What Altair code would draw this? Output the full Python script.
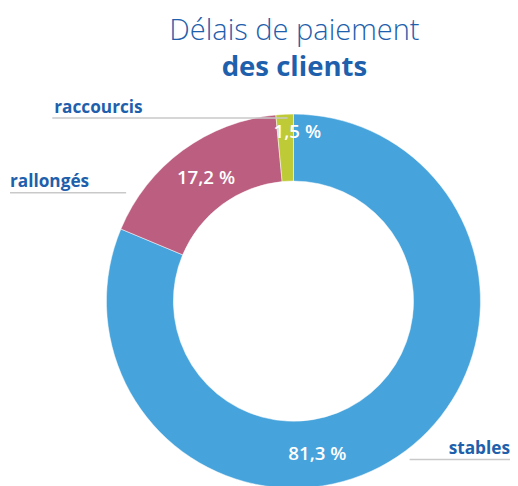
import altair as alt
import pandas as pd

categories = ["stables", "rallongés", "raccourcis"]
values = [81.3, 17.2, 1.5]
labels = ["81,3 %", "17,2 %", "1,5 %"]
order = [1, 2, 3]
colors = ["#46A3DB", "#BC5E80", "#BECA36"]

df = pd.DataFrame({"cat": categories, "val": values, "lab": labels, "ord": order})

CX, CY = 290, 294
FONT = "Open Sans"
BLUE_TXT = "#1E60AC"

arcs = alt.Chart(df).mark_arc(innerRadius=122, outerRadius=190, stroke="white", strokeWidth=0.5).encode(
    theta=alt.Theta("val:Q", stack=True),
    order=alt.Order("ord:Q"),
    x=alt.value(CX),
    y=alt.value(CY),
    color=alt.Color("cat:N", scale=alt.Scale(domain=categories, range=colors), legend=None),
)

text_base = alt.Chart(df).transform_window(
    cum="sum(val)", sort=[alt.SortField("ord")]
).transform_joinaggregate(
    total="sum(val)"
).transform_calculate(
    mid="(datum.cum - datum.val / 2) / datum.total"
)

offsets = {"stables": (-60, 29, 152), "rallongés": (3, 0, 155), "raccourcis": (12, 0, 172)}
text_layers = []
for c in categories:
    dx, dy, r = offsets[c]
    t = text_base.transform_filter(alt.datum.cat == c).mark_text(
        font=FONT, fontSize=19, fontWeight=600, color="white",
        dx=dx, dy=dy, baseline="middle", align="center"
    ).encode(
        theta=alt.Theta("mid:Q", stack=None, scale=alt.Scale(domain=[0, 1], range=[0, 6.283185])),
        radius=alt.value(r),
        x=alt.value(CX),
        y=alt.value(CY),
        text="lab:N",
    )
    text_layers.append(t)

ann = alt.Chart(pd.DataFrame({"a": [0]}))

title1 = ann.mark_text(text="Délais de paiement", font=FONT, fontSize=29.5, fontWeight=300,
                       color=BLUE_TXT, align="center", baseline="alphabetic").encode(
    x=alt.value(291), y=alt.value(29))
title2 = ann.mark_text(text="des clients", font=FONT, fontSize=28, fontWeight="bold",
                       color=BLUE_TXT, align="center", baseline="alphabetic").encode(
    x=alt.value(291), y=alt.value(65))

lab_racc = ann.mark_text(text="raccourcis", font=FONT, fontSize=17.5, fontWeight="bold",
                         color=BLUE_TXT, align="left", baseline="alphabetic").encode(
    x=alt.value(47), y=alt.value(103))
lab_rall = ann.mark_text(text="rallongés", font=FONT, fontSize=17.5, fontWeight="bold",
                         color=BLUE_TXT, align="left", baseline="alphabetic").encode(
    x=alt.value(2), y=alt.value(178))
lab_stab = ann.mark_text(text="stables", font=FONT, fontSize=17.5, fontWeight="bold",
                         color=BLUE_TXT, align="right", baseline="alphabetic").encode(
    x=alt.value(510), y=alt.value(449))

line_racc = ann.mark_rule(color="#C9C9C9", strokeWidth=1.5).encode(
    x=alt.value(45), x2=alt.value(284), y=alt.value(108))
line_rall = ann.mark_rule(color="#C9C9C9", strokeWidth=1.5).encode(
    x=alt.value(2), x2=alt.value(120), y=alt.value(184))
line_stab = ann.mark_rule(color="#C9C9C9", strokeWidth=1.5).encode(
    x=alt.value(408), x2=alt.value(510), y=alt.value(455))

chart = alt.layer(
    arcs, *text_layers, line_racc, line_rall, line_stab,
    title1, title2, lab_racc, lab_rall, lab_stab
).resolve_scale(theta="independent").properties(
    width=510, height=478, autosize=alt.AutoSizeParams(type="none"), padding=0
).configure_view(stroke=None)

chart.save("out.html", embed_options={"renderer": "svg", "actions": False})
